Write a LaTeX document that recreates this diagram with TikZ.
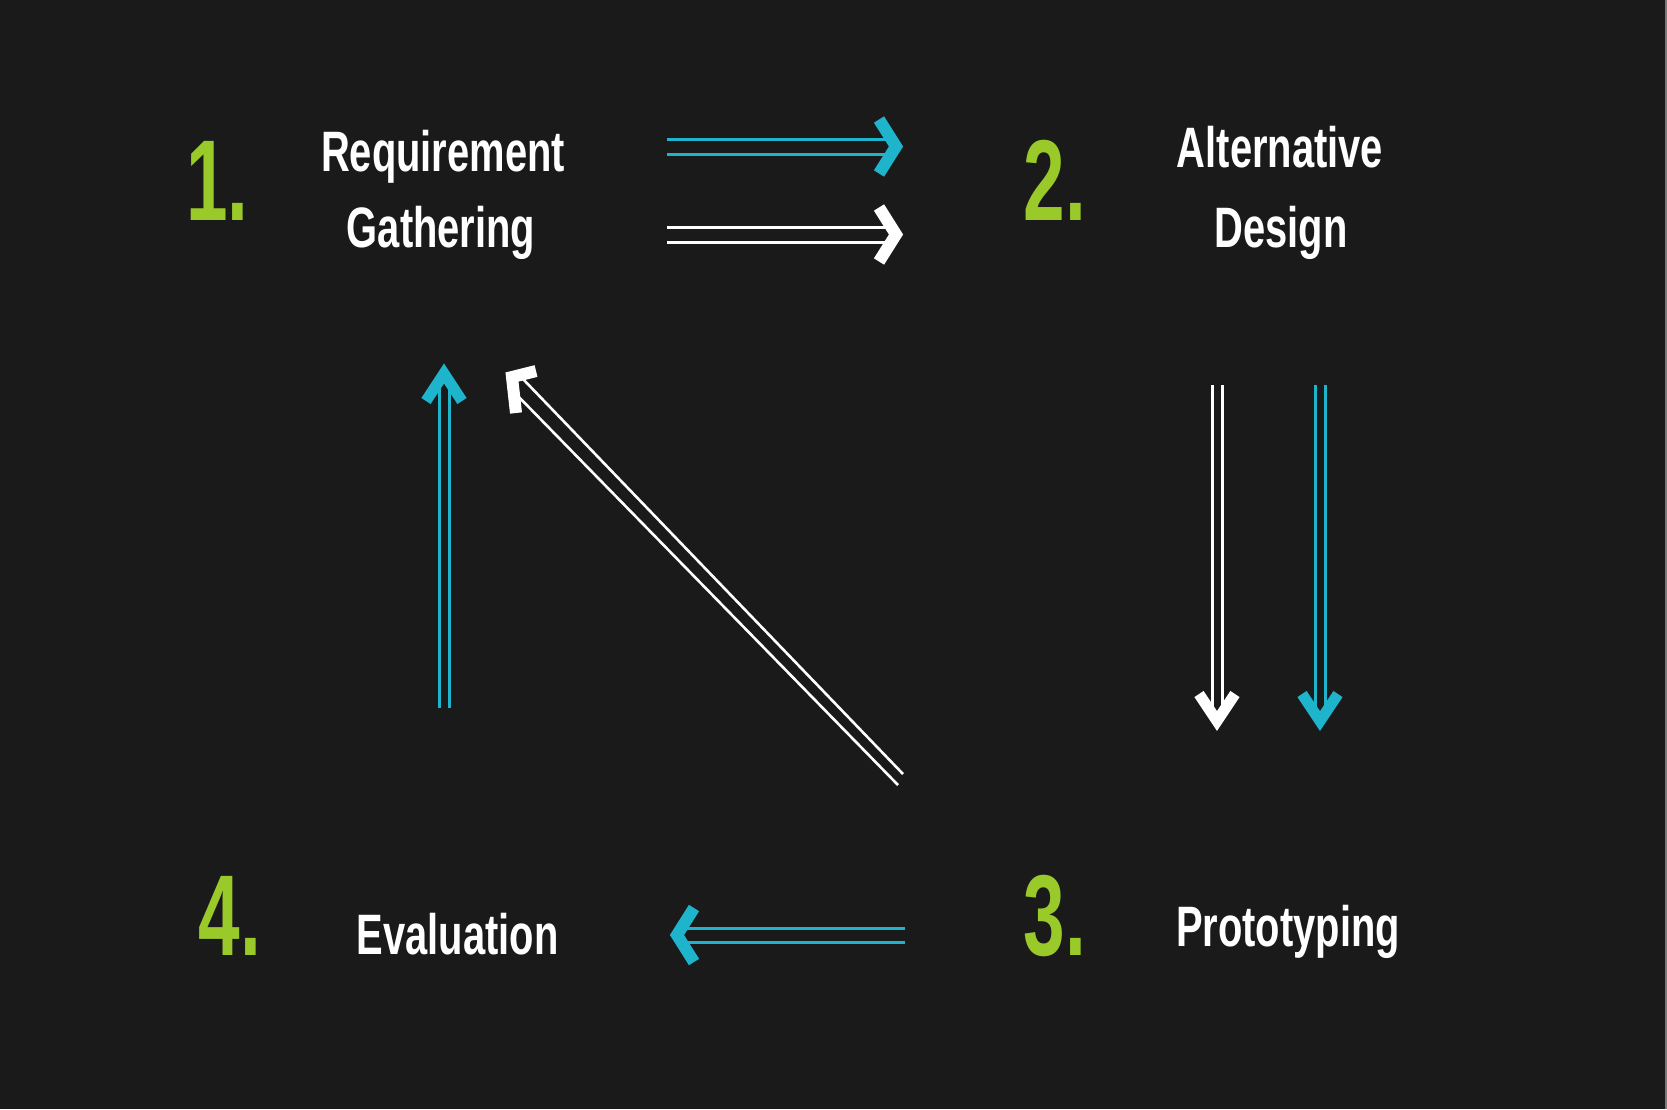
\documentclass[tikz,border=0pt]{standalone}
\usepackage{fontspec}
\setmainfont{Liberation Sans}
\newfontfamily\lblfont{Liberation Sans}[FakeStretch=0.70]
\newfontfamily\numfont{Liberation Sans}[FakeStretch=0.65]
\definecolor{bg}{HTML}{1B1A1B}
\definecolor{cy}{HTML}{1EB4CB}
\definecolor{gr}{HTML}{9ACA29}
\definecolor{edge}{HTML}{7A7A7A}
\begin{document}
\begin{tikzpicture}[x=1pt,y=-1pt,
  lbl/.style={text=white, inner sep=0pt, anchor=base, font={\lblfont\bfseries\fontsize{57}{57}\selectfont}},
  num/.style={text=gr, inner sep=0pt, anchor=base, font={\numfont\bfseries\fontsize{115}{115}\selectfont}},
  pair/.style={line width=3pt, double=bg, double distance=#1},
  headv/.style={line width=11pt, line join=miter, miter limit=10, line cap=butt},
  headh/.style={line width=12pt, line join=miter, miter limit=10, line cap=butt},
  diag/.style={line width=2.6pt, white}
]
% background and frame
\fill[bg] (0,0) rectangle (1667,1109);
\useasboundingbox (0,0) rectangle (1667,1109);
\draw[edge, line width=1.5pt] (1666.2,0) -- (1666.2,1109);

% numbers
\node[num] (n1) at (217.5,220) {1.};
\node[num] (n2) at (1055,220) {2.};
\node[num] (n3) at (1055,955) {3.};
\node[num] (n4) at (230,955) {4.};

% labels
\node[lbl] (rq) at (443,171) {Requirement};
\node[lbl] (ga) at (441,247) {Gathering};
\node[lbl] (al) at (1280,167) {Alternative};
\node[lbl] (de) at (1281,247) {Design};
\node[lbl] (pr) at (1288,946) {Prototyping};
\node[lbl] (ev) at (457.5,954) {Evaluation};

% coordinates
\coordinate (a1s) at (667,146.5);  \coordinate (a1e) at (889,146.5);
\coordinate (a2s) at (667,234.5);  \coordinate (a2e) at (889,234.5);
\coordinate (d1s) at (1217,385);   \coordinate (d1e) at (1217,714);
\coordinate (d2s) at (1320,385);   \coordinate (d2e) at (1320,714);
\coordinate (u1s) at (444,708);    \coordinate (u1e) at (444,381);
\coordinate (l1s) at (905,935);    \coordinate (l1e) at (684,935);

% top arrows (1 -> 2)
\draw[pair=12pt, cy] (a1s) -- (a1e);
\draw[headh, cy] (879,119.5) -- (896,146.5) -- (879,173.5);
\draw[pair=12pt, white] (a2s) -- (a2e);
\draw[headh, white] (879,207.5) -- (896,234.5) -- (879,261.5);

% down arrows (2 -> 3)
\draw[pair=7pt, white] (d1s) -- (d1e);
\draw[headv, white] (1199,694) -- (1217,721) -- (1235,694);
\draw[pair=7pt, cy] (d2s) -- (d2e);
\draw[headv, cy] (1302,694) -- (1320,721) -- (1338,694);

% left arrow (3 -> 4)
\draw[pair=11pt, cy] (l1s) -- (l1e);
\draw[headh, cy] (694,908) -- (677,935) -- (694,962);

% up arrow (4 -> 1)
\draw[pair=7pt, cy] (u1s) -- (u1e);
\draw[headv, cy] (426,401) -- (444,373.5) -- (462,401);

% diagonal arrow (3 -> 1)
\coordinate (g1s) at (903,774); \coordinate (g1e) at (522,378);
\coordinate (g2s) at (898,785); \coordinate (g2e) at (514,392);
\draw[diag] (g1s) -- (g1e);
\draw[diag] (g2s) -- (g2e);
\draw[headh, line width=12pt, white] (536,371) -- (512,377) -- (516,413);
\end{tikzpicture}
\end{document}
